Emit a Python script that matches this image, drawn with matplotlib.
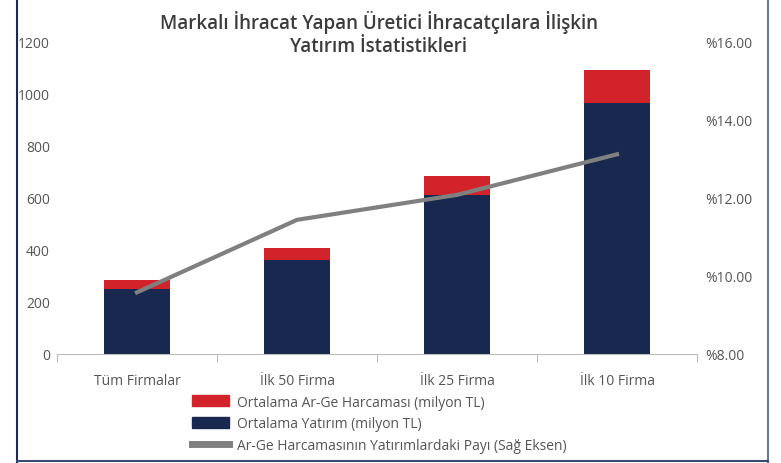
import matplotlib
matplotlib.use("Agg")
import matplotlib.pyplot as plt
from matplotlib.patches import Patch
from matplotlib.lines import Line2D
import numpy as np

categories = ["Tüm Firmalar", "İlk 50 Firma", "İlk 25 Firma", "İlk 10 Firma"]
yatirim = [250, 362, 612, 965]
arge = [35, 46, 73, 127]
pay = [9.58, 11.44, 12.08, 13.12]

title = "Markalı İhracat Yapan Üretici İhracatçılara İlişkin\nYatırım İstatistikleri"
leg_labels = ["Ortalama Ar-Ge Harcaması (milyon TL)",
              "Ortalama Yatırım (milyon TL)",
              "Ar-Ge Harcamasının Yatırımlardaki Payı (Sağ Eksen)"]

RED = "#d2232a"
NAVY = "#18284f"
GRAY = "#808080"
TXT = "#555555"

plt.rcParams['font.family'] = ['Open Sans', 'DejaVu Sans']

fig = plt.figure(figsize=(7.81, 4.64), dpi=100)
ax = fig.add_axes([57/781, 1-355/464, 640/781, 312/464])
x = np.arange(len(categories))
w = 0.41
ax.bar(x, yatirim, w, color=NAVY, zorder=2)
ax.bar(x, arge, w, bottom=yatirim, color=RED, zorder=2)
ax.set_xlim(-0.5, 3.5)
ax.set_ylim(0, 1200)
ax.set_yticks(range(0, 1201, 200))
for s in ["top", "right", "left"]:
    ax.spines[s].set_visible(False)
ax.spines["bottom"].set_color("#bbbbbb")
ax.spines["bottom"].set_linestyle((0, (1, 1)))
ax.spines["bottom"].set_linewidth(0.8)
ax.tick_params(axis="y", length=0, labelsize=10, labelcolor=TXT, pad=5)
ax.set_xticks(x)
ax.set_xticklabels(categories)
ax.tick_params(axis="x", length=0, labelsize=10, labelcolor=TXT, pad=14)
ax.set_xticks(np.arange(-0.5, 3.6, 1), minor=True)
ax.tick_params(axis="x", which="minor", length=6, color="#bbbbbb", width=0.8, direction="out")

ax2 = ax.twinx()
ax2.plot(x, pay, color=GRAY, lw=3, zorder=3)
ax2.set_ylim(8, 16)
ax2.set_yticks([8, 10, 12, 14, 16])
ax2.set_yticklabels(["%8.00", "%10.00", "%12.00", "%14.00", "%16.00"])
for s in ["top", "right", "left", "bottom"]:
    ax2.spines[s].set_visible(False)
ax2.tick_params(axis="y", length=0, labelsize=10, labelcolor=TXT, pad=6)

fig.text(379/781, 1-34/464, title, ha="center", va="center", fontsize=13.5,
         fontweight="semibold", color="#3c3c3c", linespacing=1.2)

handles = [Patch(color=RED), Patch(color=NAVY), Line2D([0], [0], color=GRAY, lw=5)]
fig.legend(handles, leg_labels, loc="upper left", bbox_to_anchor=(186/781, 1-390/464),
           frameon=False, fontsize=10, labelcolor=TXT, handlelength=2.7, handleheight=0.8,
           handletextpad=0.6, labelspacing=0.5, borderaxespad=0)

# frame
fig.add_artist(Line2D([16.5/781, 16.5/781], [0, 1], color="#1a2a55", lw=1.5, transform=fig.transFigure))
fig.add_artist(Line2D([768/781, 768/781], [0, 1], color="#6a7898", lw=1.5, transform=fig.transFigure))
fig.add_artist(Line2D([16.5/781, 768/781], [1-462/464, 1-462/464], color="#3a4a70", lw=1.5, transform=fig.transFigure))

fig.savefig("out.png", dpi=100)
